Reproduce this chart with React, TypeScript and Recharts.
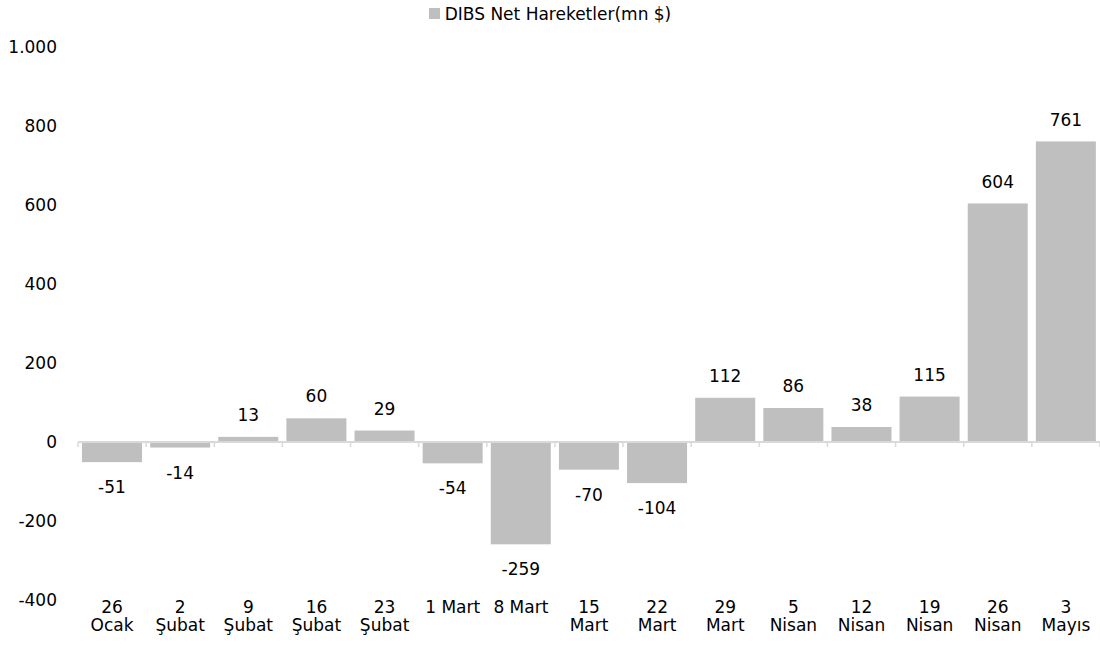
import React from "react";
import { BarChart, Bar, XAxis, YAxis, ReferenceLine, LabelList, Legend } from "recharts";

const categories = [
  "26\nOcak", "2\nŞubat", "9\nŞubat", "16\nŞubat", "23\nŞubat", "1 Mart", "8 Mart",
  "15\nMart", "22\nMart", "29\nMart", "5\nNisan", "12\nNisan", "19\nNisan", "26\nNisan", "3\nMayıs",
];
const values = [-51, -14, 13, 60, 29, -54, -259, -70, -104, 112, 86, 38, 115, 604, 761];
const yTicks = [-400, -200, 0, 200, 400, 600, 800, 1000];
const seriesName = "DIBS Net Hareketler(mn $)";

const data = categories.map((c, i) => ({ cat: c, v: values[i] }));

const FONT = "DejaVu Sans, sans-serif";
const BAR_COLOR = "#bfbfbf";
const AXIS_COLOR = "#d9d9d9";
const GAP = 4;

const fmtY = (v: number) => {
  const s = Math.abs(v).toString().replace(/\B(?=(\d{3})+(?!\d))/g, ".");
  return v < 0 ? "-" + s : s;
};

const XTick = (props: any) => {
  const { x, y, payload } = props;
  const lines = String(payload.value).split("\n");
  return (
    <text x={x} y={y} textAnchor="middle" fontFamily={FONT} fontSize={17} fill="#000">
      {lines.map((l, i) => (
        <tspan key={i} x={x} y={y + 13 + i * 18}>
          {l}
        </tspan>
      ))}
    </text>
  );
};

const BarShape = (props: any) => {
  const { x, y, width, height, index, value } = props;
  const v = Array.isArray(value) ? value[1] : value;
  const top = Math.min(y, y + height);
  const h = Math.abs(height);
  const zeroY = (v ?? 0) >= 0 ? top + h : top;
  const left = x - GAP;
  const right = x + width + GAP;
  const isLast = index === categories.length - 1;
  return (
    <g>
      <rect x={x} y={top} width={width} height={h} fill={BAR_COLOR} />
      <line x1={left} x2={left} y1={zeroY} y2={zeroY + 5} stroke={AXIS_COLOR} strokeWidth={1.5} />
      {isLast && <line x1={right} x2={right} y1={zeroY} y2={zeroY + 5} stroke={AXIS_COLOR} strokeWidth={1.5} />}
    </g>
  );
};

const BarLabel = (props: any) => {
  const { x, y, width, height, value } = props;
  const top = Math.min(y, y + height);
  const bottom = Math.max(y, y + height);
  const cx = x + width / 2;
  const cy = value >= 0 ? top - 22 : bottom + 25;
  return (
    <text x={cx} y={cy} dy="0.36em" textAnchor="middle" fontFamily={FONT} fontSize={17} fill="#000">
      {value}
    </text>
  );
};

const LegendContent = () => (
  <div
    style={{
      display: "flex",
      justifyContent: "center",
      alignItems: "center",
      height: 27,
      fontFamily: FONT,
      fontSize: 17,
      color: "#000",
    }}
  >
    <span style={{ display: "inline-block", width: 11, height: 11, background: BAR_COLOR, marginRight: 5 }} />
    <span>{seriesName}</span>
  </div>
);

export default function App() {
  return (
    <div style={{ position: "absolute", left: 0, top: 0, width: 1100, height: 669, background: "#fff" }}>
      <BarChart
        width={1100}
        height={669}
        data={data}
        margin={{ top: 20, right: 0, bottom: 0, left: 0 }}
        barCategoryGap={GAP}
      >
        <Legend verticalAlign="top" align="center" content={<LegendContent />} wrapperStyle={{ top: 0, left: 0, width: 1100 }} />
        <XAxis
          dataKey="cat"
          interval={0}
          axisLine={false}
          tickLine={false}
          height={69}
          tick={<XTick />}
          tickSize={0}
          tickMargin={0}
        />
        <YAxis
          width={78}
          domain={[-400, 1000]}
          ticks={yTicks}
          axisLine={false}
          tickLine={false}
          tickSize={0}
          tickMargin={21}
          tickFormatter={fmtY}
          tick={{ fontFamily: FONT, fontSize: 17, fill: "#000" }}
          allowDataOverflow
        />
        <ReferenceLine y={0} stroke={AXIS_COLOR} strokeWidth={2} />
        <Bar dataKey="v" name={seriesName} fill={BAR_COLOR} isAnimationActive={false} shape={<BarShape />}>
          <LabelList dataKey="v" content={<BarLabel />} />
        </Bar>
      </BarChart>
    </div>
  );
}
